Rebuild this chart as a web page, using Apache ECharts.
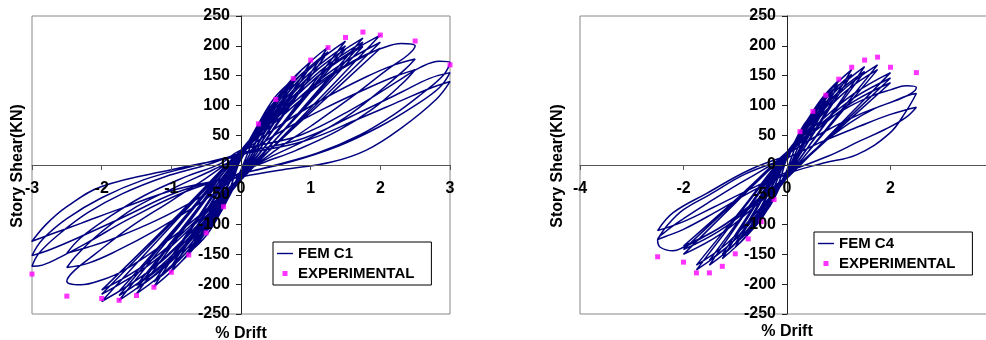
<!DOCTYPE html>
<html>
<head>
<meta charset="utf-8">
<script src="https://cdn.jsdelivr.net/npm/echarts@6/dist/echarts.min.js"></script>
<style>
html,body{margin:0;padding:0;background:#fff;}
#chart{width:986px;height:340px;}
</style>
</head>
<body>
<div id="chart"></div>
<script>
// ---------------- DATA ----------------
// Tick values
const c1DriftTicks = [-3, -2, -1, 0, 1, 2, 3];
const c4DriftTicks = [-4, -2, 0, 2, 4];
const shearTicks = [-250, -200, -150, -100, -50, 0, 50, 100, 150, 200, 250];

// Experimental envelope points, specimen C1
const expC1Drift = [0.25, 0.5, 0.75, 1.0, 1.25, 1.5, 1.75, 2.0, 2.5, 3.0, -0.25, -0.5, -0.75, -1.0, -1.25, -1.5, -1.75, -2.0, -2.5, -3.0];
const expC1Shear = [69, 110, 145, 176, 197, 214, 223, 218, 208, 168, -70, -114, -151, -180, -205, -219, -227, -224, -220, -183];

// Experimental envelope points, specimen C4
const expC4Drift = [0.25, 0.5, 0.75, 1.0, 1.25, 1.5, 1.75, 2.0, 2.5, -0.25, -0.5, -0.75, -1.0, -1.25, -1.5, -1.75, -2.0, -2.5];
const expC4Shear = [56, 90, 117, 144, 164, 176, 181, 164, 155, -58, -95, -124, -149, -170, -181, -181, -163, -154];

// FEM C1 hysteresis loops, [drift, shear], cycle by cycle
const femC1Loops = [
  [[0,8],[0.075,26],[0.16,47],[0.25,65],[0.125,28],[0,-8],[-0.075,-27],[-0.16,-47],[-0.25,-66],[-0.125,-29]],
  [[0,12],[0.15,47],[0.33,84],[0.5,108],[0.25,48],[0,-12],[-0.15,-48],[-0.33,-87],[-0.5,-112],[-0.25,-50]],
  [[0,10],[0.15,43],[0.33,79],[0.5,102],[0.25,46],[0,-10],[-0.15,-44],[-0.33,-81],[-0.5,-105],[-0.25,-47]],
  [[0,15],[0.225,64],[0.49,114],[0.75,143],[0.375,64],[0,-15],[-0.225,-65],[-0.49,-117],[-0.75,-147],[-0.375,-66]],
  [[0,14],[0.225,60],[0.49,108],[0.75,136],[0.375,61],[0,-14],[-0.225,-62],[-0.49,-111],[-0.75,-140],[-0.375,-63]],
  [[0,18],[0.3,74],[0.65,133],[1.0,173],[0.5,78],[0,-18],[-0.3,-76],[-0.65,-136],[-1.0,-178],[-0.5,-80]],
  [[0,16],[0.3,70],[0.65,127],[1.0,166],[0.5,75],[0,-16],[-0.3,-71],[-0.65,-130],[-1.0,-170],[-0.5,-77]],
  [[0,20],[0.375,84],[0.81,152],[1.25,198],[0.625,89],[0,-20],[-0.375,-86],[-0.81,-156],[-1.25,-204],[-0.625,-92]],
  [[0,18],[0.375,80],[0.81,145],[1.25,190],[0.625,86],[0,-18],[-0.375,-82],[-0.81,-150],[-1.25,-196],[-0.625,-89]],
  [[0,22],[0.45,89],[0.975,160],[1.5,208],[0.75,93],[0,-22],[-0.45,-92],[-0.975,-166],[-1.5,-216],[-0.75,-97]],
  [[0,20],[0.45,85],[0.975,153],[1.5,200],[0.75,90],[0,-20],[-0.45,-88],[-0.975,-159],[-1.5,-208],[-0.75,-94]],
  [[0,18],[0.45,81],[0.975,148],[1.5,194],[0.75,88],[0,-18],[-0.45,-84],[-0.975,-154],[-1.5,-202],[-0.75,-92]],
  [[0,25],[0.525,93],[1.14,164],[1.75,213],[0.875,94],[0,-25],[-0.525,-98],[-1.14,-174],[-1.75,-227],[-0.875,-101]],
  [[0,22],[0.525,88],[1.14,158],[1.75,206],[0.875,92],[0,-22],[-0.525,-93],[-1.14,-168],[-1.75,-219],[-0.875,-98]],
  [[0,20],[0.525,84],[1.14,152],[1.75,199],[0.875,90],[0,-20],[-0.525,-89],[-1.14,-162],[-1.75,-212],[-0.875,-96]],
  [[0,25],[0.6,94],[1.3,168],[2.0,218],[1.0,96],[0,-25],[-0.6,-98],[-1.3,-176],[-2.0,-229],[-1.0,-102]],
  [[0,22],[0.6,88],[1.3,158],[2.0,206],[1.0,92],[0,-22],[-0.6,-92],[-1.3,-166],[-2.0,-217],[-1.0,-98]],
  [[0,20],[0.6,83],[1.3,150],[2.0,196],[1.0,88],[0,-20],[-0.6,-88],[-1.3,-161],[-2.0,-210],[-1.0,-95]],
  [[0,25],[0.6,90],[1.2,145],[1.7,180],[2.0,195],[2.3,204],[2.5,200],[2.4,185],[2.1,160],[1.6,115],[1.0,65],[0.5,25],[0,-20],
   [-0.6,-85],[-1.2,-140],[-1.7,-178],[-2.0,-193],[-2.3,-201],[-2.5,-195],[-2.4,-178],[-2.1,-150],[-1.6,-105],[-1.0,-60],[-0.5,-22]],
  [[0,20],[0.6,70],[1.2,112],[1.8,148],[2.2,168],[2.5,178],[2.35,160],[2.0,125],[1.5,80],[0.9,40],[0.4,12],[0,-15],
   [-0.6,-65],[-1.2,-108],[-1.8,-145],[-2.2,-165],[-2.5,-172],[-2.35,-150],[-2.0,-112],[-1.5,-70],[-0.9,-35],[-0.4,-8]],
  [[0,15],[0.6,58],[1.2,95],[1.8,128],[2.2,148],[2.5,160],[2.3,135],[1.9,95],[1.4,58],[0.8,25],[0.3,3],[0,-12],
   [-0.6,-55],[-1.2,-92],[-1.8,-122],[-2.2,-138],[-2.5,-148],[-2.3,-122],[-1.9,-88],[-1.4,-52],[-0.8,-20],[-0.3,2]],
  [[0,25],[0.85,50],[1.66,98],[2.28,143],[2.56,163],[2.85,174],[3.0,172],[2.9,150],[2.6,120],[2.2,85],[1.7,50],[1.1,20],[0.5,0],[0,-15],
   [-0.8,-45],[-1.6,-90],[-2.2,-130],[-2.6,-155],[-2.85,-168],[-3.0,-170],[-2.9,-148],[-2.6,-115],[-2.2,-80],[-1.7,-48],[-1.1,-20],[-0.5,0]],
  [[0,20],[0.9,45],[1.7,88],[2.3,122],[2.7,145],[3.0,155],[2.85,130],[2.5,100],[2.0,65],[1.4,32],[0.7,5],[0,-15],
   [-0.9,-45],[-1.7,-88],[-2.3,-120],[-2.7,-140],[-3.0,-152],[-2.85,-125],[-2.5,-90],[-2.0,-55],[-1.4,-25],[-0.7,-2]],
  [[0,18],[0.9,40],[1.7,78],[2.3,108],[2.7,128],[3.0,140],[2.8,110],[2.3,62],[1.8,25],[1.3,5],[0.6,-8],[0,-20],
   [-0.9,-40],[-1.7,-72],[-2.3,-98],[-2.7,-115],[-3.0,-128],[-2.8,-100],[-2.5,-70],[-2.0,-36],[-1.0,-8],[0,15]]
];

// FEM C4 hysteresis loops, [drift, shear]
const femC4Loops = [
  [[0,8],[0.075,22],[0.16,38],[0.25,52],[0.125,22],[0,-8],[-0.075,-22],[-0.16,-38],[-0.25,-52],[-0.125,-22]],
  [[0,12],[0.15,39],[0.33,68],[0.5,86],[0.25,37],[0,-12],[-0.15,-39],[-0.33,-69],[-0.5,-88],[-0.25,-38]],
  [[0,14],[0.225,50],[0.49,88],[0.75,113],[0.375,50],[0,-14],[-0.225,-51],[-0.49,-90],[-0.75,-116],[-0.375,-51]],
  [[0,12],[0.225,47],[0.49,84],[0.75,108],[0.375,48],[0,-12],[-0.225,-47],[-0.49,-85],[-0.75,-110],[-0.375,-49]],
  [[0,16],[0.3,61],[0.65,109],[1.0,142],[0.5,63],[0,-16],[-0.3,-60],[-0.65,-106],[-1.0,-138],[-0.5,-61]],
  [[0,15],[0.3,58],[0.65,104],[1.0,135],[0.5,60],[0,-15],[-0.3,-57],[-0.65,-102],[-1.0,-132],[-0.5,-58]],
  [[0,18],[0.375,69],[0.81,123],[1.25,160],[0.625,71],[0,-18],[-0.375,-68],[-0.81,-121],[-1.25,-157],[-0.625,-70]],
  [[0,16],[0.375,65],[0.81,117],[1.25,152],[0.625,68],[0,-16],[-0.375,-64],[-0.81,-115],[-1.25,-150],[-0.625,-67]],
  [[0,20],[0.45,72],[0.975,127],[1.5,165],[0.75,72],[0,-20],[-0.45,-73],[-0.975,-130],[-1.5,-168],[-0.75,-74]],
  [[0,18],[0.45,68],[0.975,121],[1.5,157],[0.75,70],[0,-18],[-0.45,-69],[-0.975,-123],[-1.5,-160],[-0.75,-71]],
  [[0,22],[0.525,75],[1.14,130],[1.75,168],[0.875,73],[0,-22],[-0.525,-77],[-1.14,-136],[-1.75,-176],[-0.875,-77]],
  [[0,20],[0.525,70],[1.14,124],[1.75,160],[0.875,70],[0,-20],[-0.525,-73],[-1.14,-130],[-1.75,-168],[-0.875,-74]],
  [[0,22],[0.6,70],[1.3,120],[2.0,155],[1.0,66],[0,-22],[-0.6,-68],[-1.3,-117],[-2.0,-150],[-1.0,-64]],
  [[0,20],[0.6,65],[1.3,113],[2.0,146],[1.0,63],[0,-20],[-0.6,-64],[-1.3,-110],[-2.0,-142],[-1.0,-61]],
  [[0,18],[0.6,61],[1.3,107],[2.0,138],[1.0,60],[0,-18],[-0.6,-60],[-1.3,-105],[-2.0,-136],[-1.0,-59]],
  [[0,22],[0.6,65],[1.2,98],[1.7,118],[2.0,126],[2.3,133],[2.5,130],[2.4,120],[2.1,108],[1.7,95],[1.2,70],[0.6,30],[0,-18],
   [-0.6,-62],[-1.2,-100],[-1.7,-125],[-2.0,-138],[-2.2,-144],[-2.45,-138],[-2.5,-126],[-2.35,-112],[-2.0,-90],[-1.5,-62],[-0.9,-30],[-0.4,-5]],
  [[0,18],[0.7,55],[1.4,85],[2.0,105],[2.35,117],[2.5,120],[2.3,90],[1.98,53],[1.34,17],[0.69,3],[0,-15],
   [-0.7,-45],[-1.4,-80],[-2.0,-108],[-2.35,-120],[-2.5,-125],[-2.3,-100],[-2.0,-75],[-1.5,-50],[-0.8,-15]],
  [[0,12],[0.7,40],[1.4,65],[2.0,85],[2.5,97],[2.3,80],[1.9,60],[1.4,40],[0.8,15],[0,-12],
   [-0.7,-40],[-1.4,-70],[-2.0,-95],[-2.5,-110],[-2.2,-80],[-1.56,-48],[-0.72,-8],[0,15]]
];

// ---------------- BUILD ----------------
const flatten = loops => loops.reduce((acc, l) => acc.concat(l), []);
const zipPts = (xs, ys) => xs.map((x, i) => [x, ys[i]]);

const FONT = 'Liberation Sans, Arial, sans-serif';
const lineColor = '#000080';
const expColor = '#FF00FF';

// grid geometry (pixels)
const G1 = { left: 32, top: 16, width: 418, height: 298 };
const G2 = { left: 580, top: 16, width: 414, height: 298 };

function xAxisCfg(gridIndex, ticks, grid) {
  return {
    type: 'value', gridIndex, position: 'bottom', z: 10,
    min: ticks[0], max: ticks[ticks.length - 1], interval: ticks[1] - ticks[0],
    offset: -grid.height / 2,
    axisLine: { onZero: false, lineStyle: { color: '#555', width: 1 } },
    axisTick: { show: true, length: 5, lineStyle: { color: '#555' } },
    axisLabel: { fontFamily: FONT, fontWeight: 'bold', fontSize: 16, color: '#000', margin: 16, showMinLabel: true, showMaxLabel: true },
    splitLine: { show: false }
  };
}
function yAxisCfg(gridIndex, grid) {
  return {
    type: 'value', gridIndex, position: 'left', z: 10,
    min: shearTicks[0], max: shearTicks[shearTicks.length - 1], interval: shearTicks[1] - shearTicks[0],
    offset: -grid.width / 2,
    axisLine: { onZero: false, lineStyle: { color: '#222', width: 1 } },
    axisTick: { show: true, length: 5, lineStyle: { color: '#222' } },
    axisLabel: { fontFamily: FONT, fontWeight: 'bold', fontSize: 16, color: '#000', margin: 11, showMinLabel: true, showMaxLabel: true },
    splitLine: { show: false }
  };
}
function legendCfg(left, top, femName) {
  return {
    left, top, orient: 'vertical', z: 12,
    backgroundColor: '#fff', borderColor: '#000', borderWidth: 1,
    padding: [4, 17, 4, 4], itemGap: 5, itemWidth: 16, itemHeight: 5,
    symbolKeepAspect: true,
    textStyle: { fontFamily: FONT, fontWeight: 'bold', fontSize: 15, color: '#000' },
    data: [
      { name: femName, icon: 'path://M0 0H16V1.4H0Z' },
      { name: 'EXPERIMENTAL', icon: 'path://M0 0H1V1H0Z' }
    ]
  };
}
function textEl(str, x, y, rot) {
  return {
    type: 'text', x, y, rotation: rot || 0,
    style: { text: str, fontFamily: FONT, fontWeight: 'bold', fontSize: 16, fill: '#000', align: 'center', verticalAlign: 'middle' }
  };
}
function gridCfg(g) {
  return Object.assign({ show: true, borderColor: '#888', borderWidth: 1, backgroundColor: 'transparent',
    containLabel: false, outerBoundsMode: 'none' }, g);
}

const chart = echarts.init(document.getElementById('chart'), null, { renderer: 'canvas' });
chart.setOption({
  animation: false,
  backgroundColor: '#fff',
  grid: [gridCfg(G1), gridCfg(G2)],
  xAxis: [xAxisCfg(0, c1DriftTicks, G1), xAxisCfg(1, c4DriftTicks, G2)],
  yAxis: [yAxisCfg(0, G1), yAxisCfg(1, G2)],
  legend: [
    legendCfg(273, 242, 'FEM C1'),
    legendCfg(814, 232, 'FEM C4')
  ],
  series: [
    { name: 'FEM C1', type: 'line', xAxisIndex: 0, yAxisIndex: 0, data: flatten(femC1Loops),
      showSymbol: false, symbol: 'none', smooth: 0.4, lineStyle: { color: lineColor, width: 1.5 }, itemStyle: { color: lineColor } },
    { name: 'EXPERIMENTAL', type: 'scatter', xAxisIndex: 0, yAxisIndex: 0, data: zipPts(expC1Drift, expC1Shear),
      symbol: 'rect', symbolSize: 5, itemStyle: { color: expColor }, z: 5 },
    { name: 'FEM C4', type: 'line', xAxisIndex: 1, yAxisIndex: 1, data: flatten(femC4Loops),
      showSymbol: false, symbol: 'none', smooth: 0.4, lineStyle: { color: lineColor, width: 1.5 }, itemStyle: { color: lineColor } },
    { name: 'EXPERIMENTAL', type: 'scatter', xAxisIndex: 1, yAxisIndex: 1, data: zipPts(expC4Drift, expC4Shear),
      symbol: 'rect', symbolSize: 5, itemStyle: { color: expColor }, z: 5 }
  ],
  graphic: [
    textEl('Story Shear(KN)', 18, 166, Math.PI / 2),
    textEl('% Drift', 241, 334),
    textEl('Story Shear(KN)', 558, 166, Math.PI / 2),
    textEl('% Drift', 787, 332)
  ]
});
</script>
</body>
</html>
